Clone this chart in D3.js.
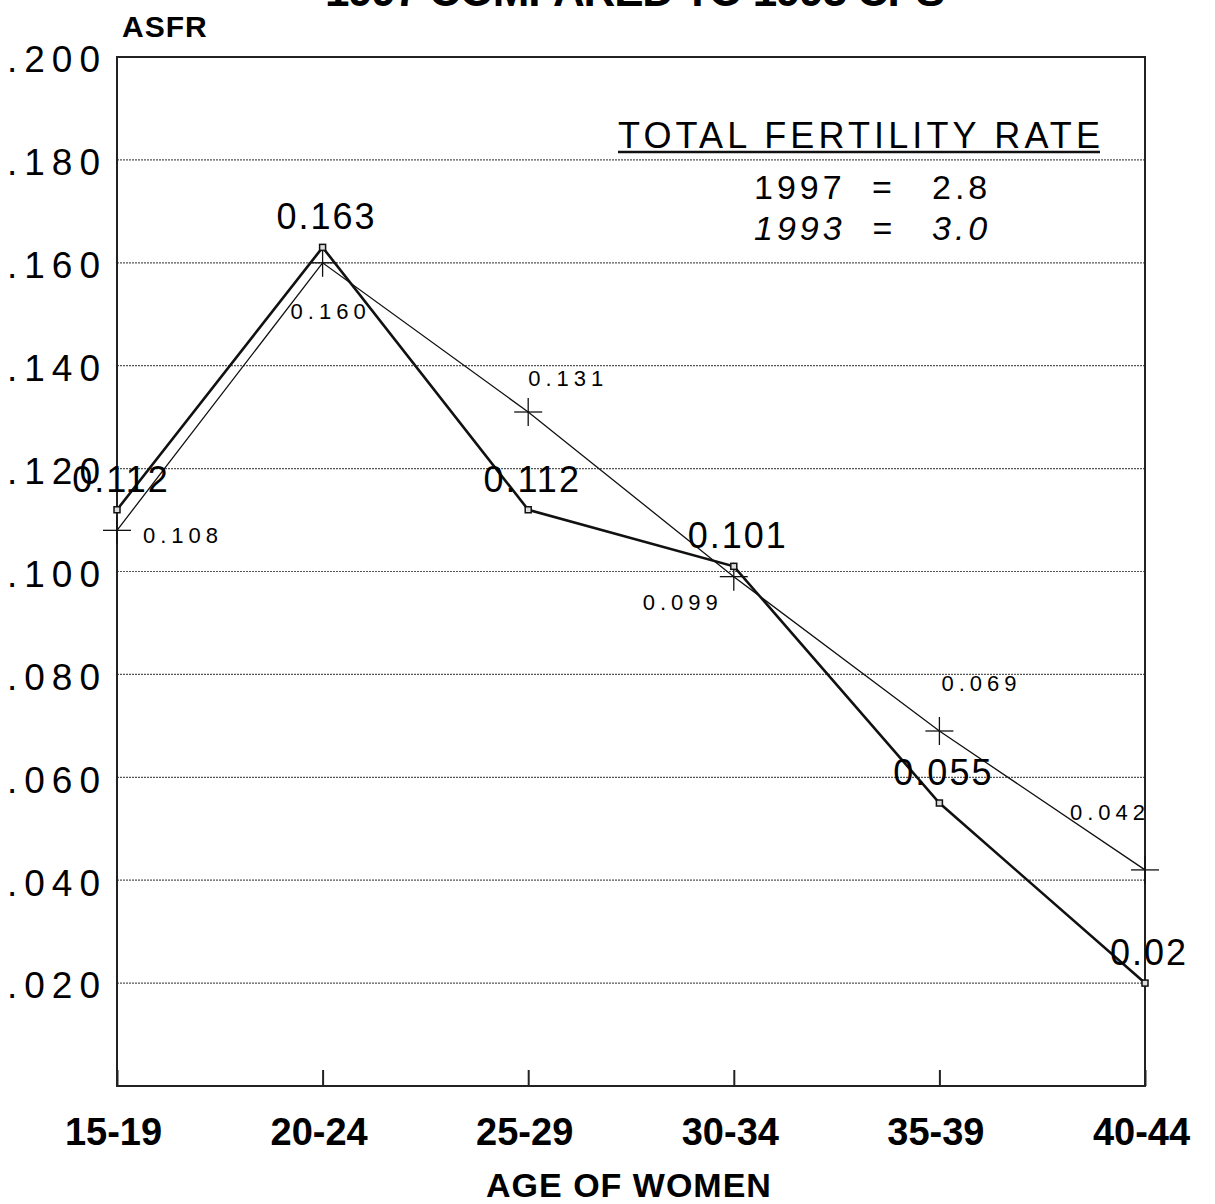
<!DOCTYPE html>
<html>
<head>
<meta charset="utf-8">
<script src="https://d3js.org/d3.v7.min.js"></script>
<style>
  body { margin: 0; background: #fff; }
  text { font-family: "Liberation Sans", Arial, sans-serif; fill: #000; }
</style>
</head>
<body>
<div id="chart"></div>
<script>
var width = 1215;
var height = 1204;

// age groups on the x axis
var ageGroups = ['15-19', '20-24', '25-29', '30-34', '35-39', '40-44'];

// age specific fertility rates
var asfr1997 = [0.112, 0.163, 0.112, 0.101, 0.055, 0.020];
var asfr1997Labels = ['0.112', '0.163', '0.112', '0.101', '0.055', '0.02'];
var asfr1993 = [0.108, 0.160, 0.131, 0.099, 0.069, 0.042];
var asfr1993Labels = ['0.108', '0.160', '0.131', '0.099', '0.069', '0.042'];

// y ticks
var yTicks = [0.020, 0.040, 0.060, 0.080, 0.100, 0.120, 0.140, 0.160, 0.180, 0.200];

// total fertility rate box
var tfrYears = ['1997', '1993'];
var tfrValues = ['2.8', '3.0'];

// where the small 1993 labels sit relative to their point (layout only)
var nudge1993 = [
  {dx: 26, dy: 13, anchor: 'start'},
  {dx: 8, dy: 56, anchor: 'middle'},
  {dx: 0, dy: -26, anchor: 'start'},
  {dx: -11, dy: 33, anchor: 'end'},
  {dx: 2, dy: -40, anchor: 'start'},
  {dx: -35, dy: -50, anchor: 'middle'}
];

var plotLeft = 117, plotRight = 1145, plotTop = 57, plotBottom = 1086;

var x = d3.scalePoint().domain(ageGroups).range([plotLeft, plotRight]);
var y = d3.scaleLinear().domain([0, 0.2]).range([plotBottom, plotTop]);

var svg = d3.select('#chart')
  .append('svg')
    .attr('width', width)
    .attr('height', height);

// cut-off title at the very top of the page
svg.append('text')
  .attr('x', 325)
  .attr('y', 6)
  .attr('textLength', 620)
  .attr('lengthAdjust', 'spacing')
  .style('font-size', '44px')
  .style('font-weight', 'bold')
  .text('1997 COMPARED TO 1993 CPS');

// dotted grid lines
svg.append('g')
  .selectAll('line')
  .data(yTicks.filter(d => d < 0.2))
  .join('line')
    .attr('x1', plotLeft)
    .attr('x2', plotRight)
    .attr('y1', d => y(d))
    .attr('y2', d => y(d))
    .attr('stroke', '#555')
    .attr('stroke-width', 1.2)
    .attr('stroke-dasharray', '2,1');

// frame
svg.append('rect')
  .attr('x', plotLeft)
  .attr('y', plotTop)
  .attr('width', plotRight - plotLeft)
  .attr('height', plotBottom - plotTop)
  .attr('fill', 'none')
  .attr('stroke', '#222')
  .attr('stroke-width', 2);

// y axis labels
var yAxis = svg.append('g')
  .attr('transform', 'translate(' + plotLeft + ',3)')
  .call(d3.axisLeft(y)
    .tickValues(yTicks)
    .tickSize(0)
    .tickPadding(10)
    .tickFormat(d => d3.format('.3f')(d).replace(/^0/, '')));
yAxis.select('.domain').remove();
yAxis.selectAll('text')
  .style('font-family', '"Liberation Sans", Arial, sans-serif')
  .style('font-size', '37px')
  .style('letter-spacing', '7px');

// x axis with inward ticks
var xAxis = svg.append('g')
  .attr('transform', 'translate(0,' + plotBottom + ')')
  .call(d3.axisBottom(x).tickSize(-16).tickPadding(32));
xAxis.select('.domain').remove();
xAxis.selectAll('line').attr('stroke', '#222').attr('stroke-width', 2);
xAxis.selectAll('text')
  .attr('dx', -4)
  .style('font-family', '"Liberation Sans", Arial, sans-serif')
  .style('font-size', '38px')
  .style('font-weight', 'bold');

svg.append('text')
  .attr('x', 629)
  .attr('y', 1197)
  .attr('text-anchor', 'middle')
  .style('font-size', '34px')
  .style('font-weight', 'bold')
  .style('letter-spacing', '1px')
  .text('AGE OF WOMEN');

svg.append('text')
  .attr('x', 122)
  .attr('y', 37)
  .style('font-size', '30px')
  .style('font-weight', 'bold')
  .style('letter-spacing', '1px')
  .text('ASFR');

var line = d3.line()
  .x((d, i) => x(ageGroups[i]))
  .y(d => y(d));

// 1993 thin line with + markers
svg.append('path')
  .datum(asfr1993)
  .attr('d', line)
  .attr('fill', 'none')
  .attr('stroke', '#111')
  .attr('stroke-width', 1.3);

var plus = svg.append('g')
  .selectAll('g')
  .data(asfr1993)
  .join('g')
    .attr('transform', (d, i) => 'translate(' + x(ageGroups[i]) + ',' + y(d) + ')');
plus.append('line').attr('x1', -14).attr('x2', 14).attr('stroke', '#111').attr('stroke-width', 1.3);
plus.append('line').attr('y1', -14).attr('y2', 14).attr('stroke', '#111').attr('stroke-width', 1.3);

// 1997 thick line with square markers
svg.append('path')
  .datum(asfr1997)
  .attr('d', line)
  .attr('fill', 'none')
  .attr('stroke', '#111')
  .attr('stroke-width', 2.6);

svg.append('g')
  .selectAll('rect')
  .data(asfr1997)
  .join('rect')
    .attr('x', (d, i) => x(ageGroups[i]) - 3)
    .attr('y', d => y(d) - 3)
    .attr('width', 6)
    .attr('height', 6)
    .attr('fill', '#ddd')
    .attr('stroke', '#111')
    .attr('stroke-width', 1.5);

// value labels
svg.append('g')
  .selectAll('text')
  .data(asfr1997)
  .join('text')
    .attr('x', (d, i) => x(ageGroups[i]) + 4)
    .attr('y', d => y(d) - 18)
    .attr('text-anchor', 'middle')
    .style('font-size', '36px')
    .style('letter-spacing', '2px')
    .text((d, i) => asfr1997Labels[i]);

svg.append('g')
  .selectAll('text')
  .data(asfr1993)
  .join('text')
    .attr('x', (d, i) => x(ageGroups[i]) + nudge1993[i].dx)
    .attr('y', (d, i) => y(d) + nudge1993[i].dy)
    .attr('text-anchor', (d, i) => nudge1993[i].anchor)
    .style('font-size', '22px')
    .style('letter-spacing', '5px')
    .text((d, i) => asfr1993Labels[i]);

// total fertility rate box
svg.append('text')
  .attr('x', 618)
  .attr('y', 148)
  .attr('textLength', 482)
  .attr('lengthAdjust', 'spacing')
  .style('font-size', '36px')
  .text('TOTAL FERTILITY RATE');

svg.append('line')
  .attr('x1', 618)
  .attr('x2', 1100)
  .attr('y1', 152)
  .attr('y2', 152)
  .attr('stroke', '#111')
  .attr('stroke-width', 2.5);

var tfr = svg.append('g')
  .selectAll('g')
  .data(tfrYears)
  .join('g')
    .attr('transform', (d, i) => 'translate(0,' + (199 + i * 41) + ')')
    .style('font-size', '34px')
    .style('font-style', (d, i) => i == 1 ? 'italic' : 'normal')
    .style('letter-spacing', '4px');
tfr.append('text').attr('x', 754).text(d => d);
tfr.append('text').attr('x', 884).attr('text-anchor', 'middle').text('=');
tfr.append('text').attr('x', 932).text((d, i) => tfrValues[i]);
</script>
</body>
</html>
